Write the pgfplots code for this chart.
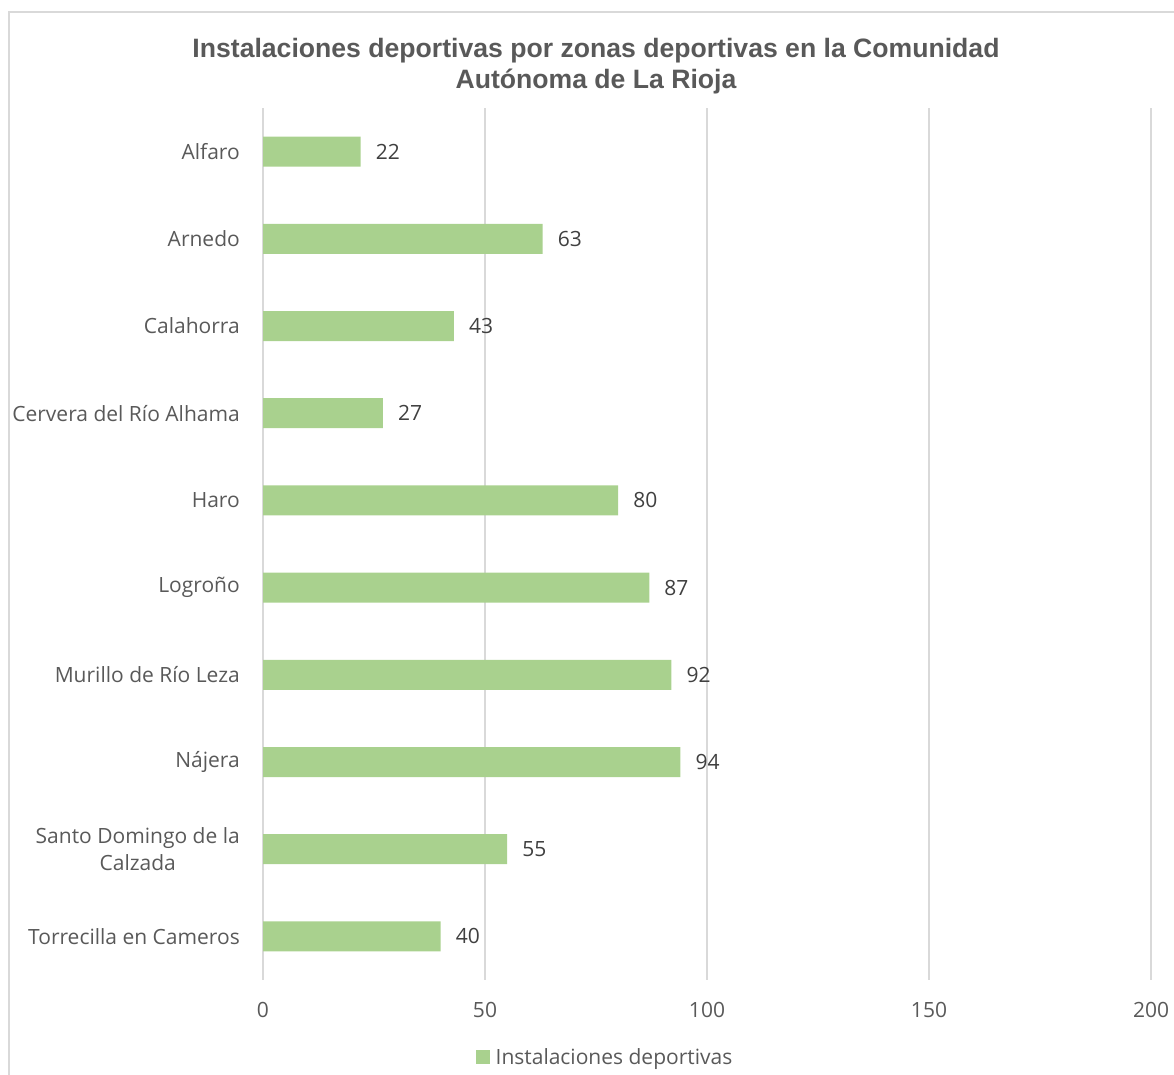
\documentclass[border=0pt]{standalone}
\usepackage{pgfplots}
\pgfplotsset{compat=1.18}
\usepackage{fontspec}
\setmainfont{Open Sans}
\newfontfamily\titlefont{Liberation Sans}
\definecolor{barcol}{HTML}{A9D18E}
\definecolor{gridcol}{HTML}{D9D9D9}
\definecolor{txtcol}{HTML}{595959}
\definecolor{lblcol}{HTML}{404040}
\begin{document}
\begin{tikzpicture}[x=1pt,y=1pt]
\useasboundingbox (0,0) rectangle (1174,1075);
\draw[gridcol, line width=1.5pt] (9,-20) rectangle (1200,1063);
\begin{axis}[
  at={(263pt,95pt)}, anchor=south west,
  scale only axis, width=888pt, height=872pt,
  xbar, bar width=30pt,
  xmin=0, xmax=200, ymin=-0.5, ymax=9.5,
  y dir=reverse,
  ytick={0,...,9},
  yticklabels={Alfaro,Arnedo,Calahorra,Cervera del Río Alhama,Haro,Logroño,Murillo de Río Leza,Nájera,{Santo Domingo de la\\Calzada},Torrecilla en Cameros},
  xtick={0,50,100,150,200},
  xmajorgrids, grid style={draw=gridcol, line width=1.5pt},
  axis line style={draw=none},
  major tick length=0pt,
  /pgf/number format/assume math mode=true,
  tick label style={font=\fontsize{21}{27}\selectfont, text=txtcol},
  xticklabel style={anchor=center, yshift=-30pt, inner sep=0pt},
  yticklabel style={anchor=east, align=center, xshift=-23pt, inner sep=0pt},
  nodes near coords,
  nodes near coords style={anchor=west, xshift=15pt, inner sep=0pt, font=\fontsize{21}{25}\selectfont, text=lblcol},
  title={Instalaciones deportivas por zonas deportivas en la Comunidad\\Autónoma de La Rioja},
  title style={at={(axis description cs:0.375,1.0516)}, anchor=center, align=center, yshift=-9pt, font=\titlefont\bfseries\fontsize{26.6}{31}\selectfont, text=txtcol},
  legend style={at={(axis description cs:0.384,-0.0883)}, anchor=center, draw=none, fill=none, font=\fontsize{21}{25}\selectfont, text=txtcol, inner sep=0pt, nodes={inner sep=0pt}, column sep=6pt},
  legend image code/.code={\fill[barcol] (0pt,-7pt) rectangle (14pt,7pt);},
]
\addplot[fill=barcol, draw=none] coordinates {
(22,0) (63,1) (43,2) (27,3) (80,4) (87,5) (92,6) (94,7) (55,8) (40,9)
};
\addlegendentry{Instalaciones deportivas}
\end{axis}
\end{tikzpicture}
\end{document}
